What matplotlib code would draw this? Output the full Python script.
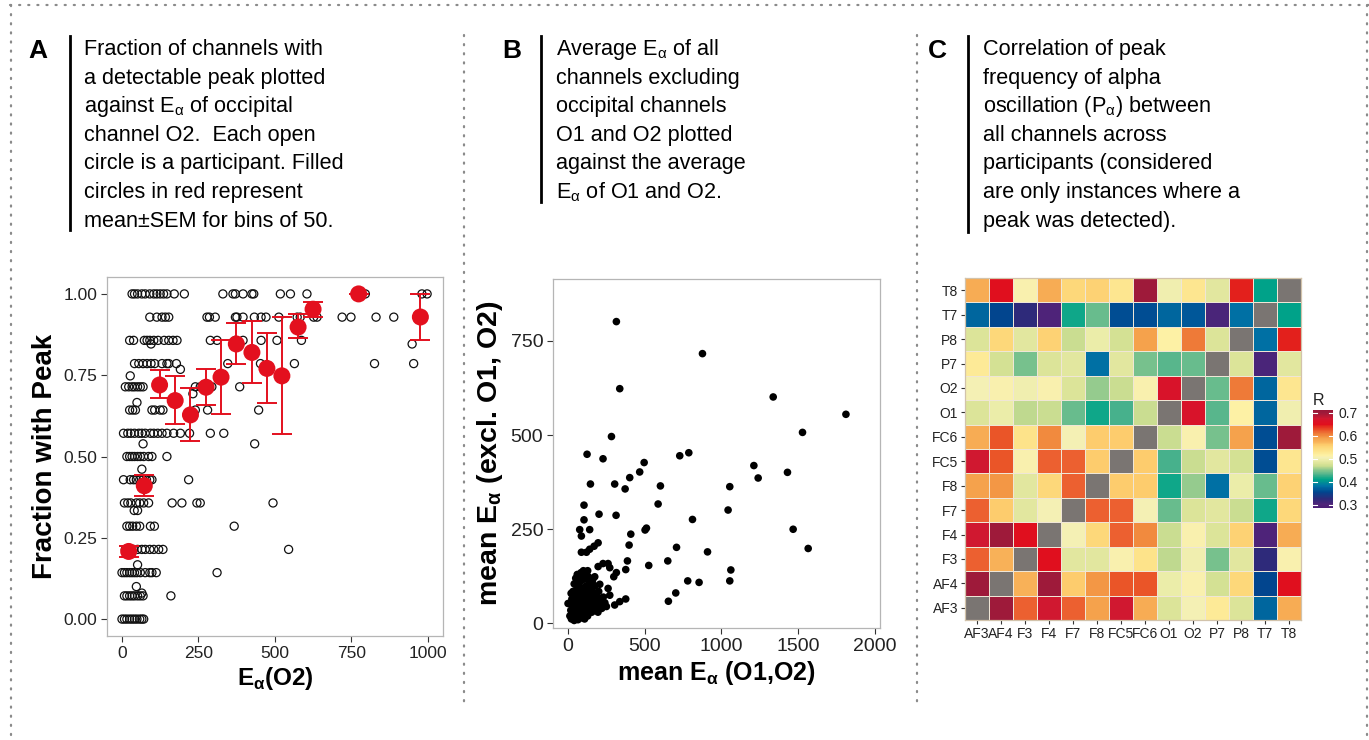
import numpy as np
import matplotlib
matplotlib.use("Agg")
import matplotlib.pyplot as plt
from matplotlib.colors import LinearSegmentedColormap
from matplotlib.lines import Line2D

W, H = 1369, 740

# ---- panel A: fraction of channels with a peak vs E_alpha(O2) ----
# open circles: one list of E_alpha values per fraction level (k/14)
open_levels = [14, 13, 12, 11, 10, 9, 8, 7, 6, 5, 4, 3, 2, 1, 0]
open_x = [
    [33, 41, 51, 65, 76, 91, 104, 114, 125, 136, 147, 171, 204, 330, 363, 371, 396, 425, 431, 518, 551, 605, 785, 796, 981, 998],
    [91, 114, 131, 142, 153, 278, 286, 305, 371, 376, 396, 433, 455, 471, 513, 573, 583, 627, 638, 720, 749, 831, 889, 976],
    [25, 38, 73, 82, 91, 104, 118, 138, 153, 167, 180, 289, 311, 371, 396, 455, 507, 587],
    [41, 55, 69, 82, 95, 107, 131, 147, 153, 178, 346, 453, 564, 826, 954],
    [11, 22, 33, 41, 51, 60, 69, 240, 256, 262, 294, 385],
    [25, 35, 44, 98, 107, 125, 134, 240, 280, 447],
    [5, 19, 29, 41, 55, 65, 76, 93, 104, 117, 131, 147, 169, 191, 221, 289, 333],
    [16, 25, 33, 41, 51, 60, 71, 87, 98, 147],
    [5, 27, 38, 47, 58, 69, 80, 91, 98, 218],
    [8, 19, 29, 47, 58, 71, 87, 164, 196, 245, 256, 494],
    [16, 25, 35, 47, 58, 93, 106, 367],
    [11, 22, 38, 51, 65, 76, 91, 104, 120, 134, 545],
    [0, 8, 16, 25, 33, 41, 49, 60, 76, 91, 98, 112, 311],
    [8, 16, 25, 33, 41, 51, 60, 69, 160],
    [0, 8, 16, 25, 33, 41, 49, 58, 65, 71],
]
extra_x = [95, 949, 191, 27, 232, 49, 69, 434, 65, 40, 51, 51, 47, 65]
extra_y = [0.846, 0.846, 0.768, 0.748, 0.693, 0.666, 0.539, 0.539, 0.461, 0.334, 0.334, 0.167, 0.100, 0.080]

bin_x = [22, 73, 123, 174, 224, 275, 324, 374, 425, 474, 523, 576, 625, 774, 976]
bin_mean = [0.208, 0.410, 0.720, 0.672, 0.628, 0.713, 0.744, 0.846, 0.820, 0.771, 0.748, 0.898, 0.953, 1.000, 0.929]
bin_lo = [0.190, 0.379, 0.679, 0.599, 0.549, 0.659, 0.631, 0.785, 0.725, 0.664, 0.569, 0.864, 0.929, 1.000, 0.857]
bin_hi = [0.225, 0.444, 0.766, 0.748, 0.710, 0.768, 0.857, 0.910, 0.918, 0.879, 0.930, 0.939, 0.976, 1.000, 1.000]

# ---- panel B: mean E_alpha excluding O1/O2 vs mean E_alpha(O1,O2) ----
b_x = [315, 876, 337, 1337, 1811, 1528, 283, 124, 228, 728, 787, 496, 467, 402, 1211, 1239,
       1430, 146, 304, 372, 602, 1054, 587, 1043, 104, 104, 202, 313, 811, 76, 141, 87,
       502, 511, 1467, 409, 398, 707, 909, 1565, 87, 120, 141, 170, 196, 387, 650, 526,
       376, 1061, 102, 196, 228, 261, 272, 315, 298, 780, 854, 1054, 702, 654, 304, 337,
       376, 272, 261, 228, 207, 174,
       12, 18, 22, 28, 30, 35, 38, 42, 45, 48, 52, 55, 58, 60, 62, 65, 68, 70, 72, 75,
       78, 80, 82, 85, 88, 90, 92, 95, 98, 100, 102, 105, 108, 110, 112, 115, 118, 120,
       122, 125, 128, 130, 135, 138, 140, 145, 148, 150, 155, 158, 160, 165, 170, 175,
       180, 185, 190, 195, 200, 205, 210, 220, 230, 240, 250, 32, 25, 15, 20, 40, 50,
       60, 70, 85, 100, 115, 130, 145, 160, 88, 108, 65, 40, 128, 0, 152]
b_y = [801, 716, 623, 601, 555, 507, 496, 449, 437, 445, 453, 427, 402, 387, 419, 386,
       401, 370, 370, 357, 365, 363, 317, 301, 314, 275, 290, 287, 276, 249, 249, 232,
       248, 253, 250, 237, 208, 202, 190, 199, 189, 189, 197, 205, 214, 166, 166, 154,
       143, 142, 127, 151, 159, 159, 148, 135, 124, 113, 109, 113, 81, 59, 49, 58,
       65, 75, 93, 49, 104, 124,
       20, 35, 12, 48, 25, 60, 18, 40, 75, 30, 55, 90, 22, 68, 45, 100, 35, 80, 58, 20,
       110, 45, 70, 30, 92, 55, 115, 40, 75, 25, 60, 95, 45, 120, 30, 80, 60, 100,
       40, 70, 20, 90, 55, 110, 35, 75, 50, 95, 30, 65, 85, 45, 60, 100,
       40, 75, 55, 30, 85, 50, 65, 40, 70, 55, 45, 85, 65, 55, 80, 105, 120,
       130, 125, 135, 140, 135, 125, 120, 115, 15, 12, 10, 8, 140, 53, 93]

# ---- panel C: correlation of peak alpha frequency between channels ----
channels = ["AF3", "AF4", "F3", "F4", "F7", "F8", "FC5", "FC6", "O1", "O2", "P7", "P8", "T7", "T8"]
nan = np.nan
corr_rows = [
    [nan, .70, .62, .675, .62, .59, .675, .58, .48, .505, .525, .48, .375, .58],
    [.70, nan, .575, .70, .56, .595, .625, .625, .495, .51, .475, .55, .355, .65],
    [.62, .575, nan, .65, .485, .485, .51, .535, .465, .50, .445, .485, .325, .51],
    [.675, .70, .65, nan, .505, .55, .62, .60, .47, .51, .48, .555, .30, .58],
    [.62, .56, .485, .505, nan, .62, .62, .505, .44, .48, .485, .47, .415, .55],
    [.59, .595, .485, .55, .62, nan, .56, .56, .415, .455, .38, .495, .44, .555],
    [.675, .625, .51, .62, .62, .56, nan, .56, .43, .47, .485, .475, .36, .53],
    [.58, .625, .535, .60, .505, .56, .56, nan, .47, .51, .445, .59, .36, .70],
    [.48, .495, .465, .47, .44, .415, .43, .47, nan, .67, .435, .515, .375, .50],
    [.505, .51, .50, .51, .48, .455, .47, .51, .67, nan, .44, .61, .375, .53],
    [.525, .475, .445, .48, .485, .38, .485, .445, .435, .44, nan, .48, .305, .485],
    [.48, .55, .485, .555, .47, .495, .475, .59, .515, .61, .48, nan, .38, .645],
    [.375, .355, .325, .30, .415, .44, .36, .36, .375, .365, .305, .38, nan, .41],
    [.58, .65, .51, .58, .55, .555, .53, .70, .50, .53, .485, .645, .41, nan],
]
cbar_ticks = [0.3, 0.4, 0.5, 0.6, 0.7]

EA = r"E$_\mathregular{\alpha}$"
text_a = ["Fraction of channels with", "a detectable peak plotted", "against " + EA + " of occipital",
          "channel O2.  Each open", "circle is a participant. Filled", "circles in red represent",
          "mean±SEM for bins of 50."]
text_b = ["Average " + EA + " of all", "channels excluding", "occipital channels",
          "O1 and O2 plotted", "against the average", EA + " of O1 and O2."]
text_c = ["Correlation of peak", "frequency of alpha", r"oscillation (P$_\mathregular{\alpha}$) between",
          "all channels across", "participants (considered", "are only instances where a",
          "peak was detected)."]

plt.rcParams["font.family"] = ["Liberation Sans", "DejaVu Sans"]

fig = plt.figure(figsize=(W / 100, H / 100), dpi=100)


def px_axes(l, t, r, b):
    return fig.add_axes([l / W, 1 - b / H, (r - l) / W, (b - t) / H])


def dotted(x0, y0, x1, y1):
    fig.add_artist(Line2D([x0 / W, x1 / W], [1 - y0 / H, 1 - y1 / H], transform=fig.transFigure,
                          color="#8a8a8a", lw=1.6, linestyle=(0, (0.5, 3.6)), dash_capstyle="round"))


def description(letter, lx, bar_x, tx, lines, bar_bottom):
    fig.text(lx / W, 1 - 58 / H, letter, fontsize=19, fontweight="bold", va="baseline", ha="left")
    fig.add_artist(Line2D([bar_x / W, bar_x / W], [1 - 36 / H, 1 - bar_bottom / H],
                          transform=fig.transFigure, color="black", lw=2))
    for i, line in enumerate(lines):
        fig.text(tx / W, 1 - (55 + 28.6 * i) / H, line, fontsize=15.6,
                 va="baseline", ha="left")


def style_axes(ax, size):
    for s in ax.spines.values():
        s.set_color("#b5b5b5")
        s.set_linewidth(0.9)
    ax.tick_params(length=4, width=0.8, color="#333333", labelsize=size, labelcolor="#222222", pad=3)


# dotted frame
dotted(10, 5, 1369, 5)
dotted(11, 5, 11, 740)
dotted(1367, 5, 1367, 740)
dotted(464, 35, 464, 705)
dotted(917, 35, 917, 705)

description("A", 28, 70, 84, text_a, 230)
description("B", 502, 541, 556, text_b, 202)
description("C", 928, 968, 983, text_c, 232)

# ---- panel A ----
axA = px_axes(107, 277, 443, 636)
ox = [x for xs in open_x for x in xs] + extra_x
oy = [k / 14 for k, xs in zip(open_levels, open_x) for _ in xs] + extra_y
axA.scatter(ox, oy, s=34, facecolors="none", edgecolors="#111111", linewidths=0.9, zorder=2)
bm = np.array(bin_mean)
axA.errorbar(bin_x, bin_mean, yerr=[bm - np.array(bin_lo), np.array(bin_hi) - bm], fmt="none",
             ecolor="#e3101e", elinewidth=1.4, capsize=7, capthick=1.4, zorder=3)
axA.scatter(bin_x, bin_mean, s=150, color="#e3101e", edgecolors="none", zorder=4)
axA.set_xlim(-49, 1050)
axA.set_ylim(-0.052, 1.052)
axA.set_xticks([0, 250, 500, 750, 1000])
axA.set_yticks([0, 0.25, 0.5, 0.75, 1.0])
axA.set_yticklabels(["0.00", "0.25", "0.50", "0.75", "1.00"])
style_axes(axA, 12.5)
axA.set_ylabel("Fraction with Peak", fontsize=20, fontweight="bold", labelpad=4)
axA.set_xlabel(EA + "(O2)", fontsize=17.5, fontweight="bold", labelpad=3)

# ---- panel B ----
axB = px_axes(553, 279, 880, 628)
axB.scatter(b_x, b_y, s=30, color="black", edgecolors="none")
axB.set_xlim(-98, 2033)
axB.set_ylim(-12, 914)
axB.set_xticks([0, 500, 1000, 1500, 2000])
axB.set_yticks([0, 250, 500, 750])
style_axes(axB, 14)
axB.set_ylabel("mean " + EA + " (excl. O1, O2)", fontsize=20.5, fontweight="bold", labelpad=4)
axB.set_xlabel("mean " + EA + " (O1,O2)", fontsize=18, fontweight="bold", labelpad=3)

# ---- panel C ----
nodes = [(0.285, "#4a1d76"), (0.30, "#4f2479"), (0.325, "#2c2a7a"), (0.355, "#00468f"),
         (0.365, "#005a9a"), (0.375, "#00689f"), (0.38, "#0073a6"), (0.41, "#00a488"),
         (0.43, "#4bb28c"), (0.44, "#6bbd8d"), (0.455, "#98cc8e"), (0.465, "#c2da8f"),
         (0.475, "#d6e294"), (0.485, "#e3e7a0"), (0.495, "#ecedaa"), (0.505, "#f5f0b5"),
         (0.515, "#fdf1a4"), (0.53, "#fde68f"), (0.55, "#fdd87a"), (0.56, "#fdcc6c"),
         (0.575, "#f8b058"), (0.59, "#f5a24c"), (0.60, "#f18a3e"), (0.61, "#ee7a38"),
         (0.62, "#ec6030"), (0.625, "#ea5528"), (0.645, "#e3201c"), (0.65, "#e00f1e"),
         (0.67, "#d8132a"), (0.675, "#d01830"), (0.70, "#9e1a3a"), (0.712, "#9a1838")]
vmin, vmax = nodes[0][0], nodes[-1][0]
cmap = LinearSegmentedColormap.from_list("corr", [((v - vmin) / (vmax - vmin), c) for v, c in nodes])
cmap.set_bad("#7a7572")

axC = px_axes(965, 278, 1301, 620)
corr = np.ma.masked_invalid(np.array(corr_rows))
mesh = axC.pcolormesh(np.arange(15), np.arange(15), corr, cmap=cmap, vmin=vmin, vmax=vmax,
                      edgecolors="#efe6d6", linewidth=0.5)
axC.set_xlim(0, 14)
axC.set_ylim(0, 14)
axC.set_xticks(np.arange(14) + 0.5)
axC.set_yticks(np.arange(14) + 0.5)
axC.set_xticklabels(channels)
axC.set_yticklabels(channels)
for s in axC.spines.values():
    s.set_color("#d2c3ab")
    s.set_linewidth(0.9)
axC.tick_params(length=3, width=0.8, color="#333333", labelsize=10, labelcolor="#222222", pad=2)

cax = px_axes(1313, 410, 1333, 508)
cb = fig.colorbar(mesh, cax=cax, ticks=cbar_ticks)
cb.outline.set_visible(False)
cax.tick_params(length=0, labelsize=10, labelcolor="#222222", pad=4)
for t in cbar_ticks:
    cax.plot([0, 0.2], [t, t], color="white", lw=0.8, transform=cax.get_yaxis_transform())
    cax.plot([0.8, 1], [t, t], color="white", lw=0.8, transform=cax.get_yaxis_transform())
fig.text(1313 / W, 1 - 405 / H, "R", fontsize=11.5, ha="left", va="baseline", color="#222222")

fig.savefig("out.png", dpi=100)
